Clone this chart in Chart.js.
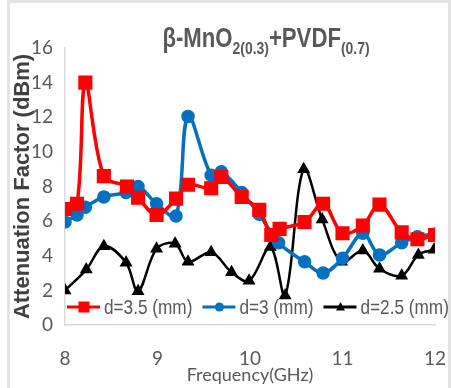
<!DOCTYPE html>
<html>
<head>
<meta charset="utf-8">
<script src="https://cdn.jsdelivr.net/npm/chart.js@4.4.0/dist/chart.umd.min.js"></script>
<style>
    body { margin: 0; background: #fff; }
    #wrap { position: relative; width: 451px; height: 388px; }
    #frame {
        position: absolute; left: 7px; top: 0; width: 438px; height: 388px;
        border: 3px solid #e3e3e3; border-bottom: none; pointer-events: none;
    }
</style>
</head>
<body>
<div id="wrap">
    <canvas id="chartPic" width="451" height="388"></canvas>
    <div id="frame"></div>
</div>
<script>
// d = 3.5 mm
const freqRed = [8.00, 8.13, 8.22, 8.42, 8.67, 8.79, 8.99, 9.20, 9.33, 9.58, 9.69, 9.91, 10.10, 10.23, 10.32, 10.59, 10.79, 11.00, 11.22, 11.40, 11.64, 11.81, 12.00];
const attRed = [6.7, 7.0, 14.0, 8.6, 8.0, 7.35, 6.35, 7.3, 8.1, 7.9, 8.55, 7.4, 6.65, 5.2, 5.55, 5.95, 7.0, 5.3, 5.75, 6.95, 5.35, 4.95, 5.2];
// d = 3 mm
const freqBlue = [8.00, 8.13, 8.22, 8.42, 8.66, 8.79, 8.99, 9.20, 9.33, 9.58, 9.69, 9.91, 10.10, 10.31, 10.59, 10.79, 11.00, 11.22, 11.40, 11.64, 11.81, 12.00];
const attBlue = [5.95, 6.35, 6.8, 7.4, 7.65, 8.0, 7.0, 6.3, 12.05, 8.65, 8.85, 7.65, 6.4, 4.75, 3.65, 3.0, 3.85, 5.3, 4.05, 4.75, 5.1, 5.25];
// d = 2.5 mm
const freqBlack = [8.00, 8.23, 8.42, 8.66, 8.79, 8.99, 9.19, 9.33, 9.58, 9.80, 9.99, 10.22, 10.38, 10.58, 10.78, 10.99, 11.22, 11.40, 11.64, 11.82, 11.99];
const attBlack = [2.0, 3.2, 4.55, 3.6, 1.95, 4.4, 4.7, 3.65, 4.2, 3.05, 2.55, 4.5, 1.7, 9.0, 6.1, 3.65, 4.3, 3.25, 2.85, 4.05, 4.35];

const seriesLabels = ['d=3.5 (mm)', 'd=3 (mm)', 'd=2.5 (mm)'];
const titleParts = [['β-MnO', false], ['2(0.3)', true], ['+PVDF', false], ['(0.7)', true]];
const yTitle = 'Attenuation Factor (dBm)';
const xTitle = 'Frequency(GHz)';

const sans = "'Liberation Sans', sans-serif";
const tickFont = "Lato, 'Liberation Sans', sans-serif";
const gray = '#595959';

function pts(xs, ys) {
    return xs.map(function (x, i) { return {x: x, y: ys[i]}; });
}

function marker(ctx, style, x, y, r, color) {
    ctx.fillStyle = color;
    ctx.beginPath();
    if (style === 'rect') {
        ctx.rect(x - r, y - r, 2 * r, 2 * r);
    } else if (style === 'circle') {
        ctx.arc(x, y, r, 0, Math.PI * 2);
    } else {
        ctx.moveTo(x, y - r * 1.1);
        ctx.lineTo(x + r, y + r * 0.8);
        ctx.lineTo(x - r, y + r * 0.8);
        ctx.closePath();
    }
    ctx.fill();
}

// squeezed text (fake narrow face), returns drawn width
function narrowText(ctx, text, x, y, k) {
    ctx.save();
    ctx.translate(x, y);
    ctx.scale(k, 1);
    ctx.fillText(text, 0, 0);
    ctx.restore();
    return ctx.measureText(text).width * k;
}

const titlePlugin = {
    id: 'subTitle',
    afterDraw: function (chart) {
        const ctx = chart.ctx;
        const big = 'bold 27px ' + sans;
        const small = 'bold 17px ' + sans;
        const k = 0.82;
        let total = 0;
        titleParts.forEach(function (p) {
            ctx.font = p[1] ? small : big;
            total += ctx.measureText(p[0]).width * k;
        });
        let x = 266 - total / 2;
        ctx.save();
        ctx.fillStyle = gray;
        ctx.textBaseline = 'alphabetic';
        titleParts.forEach(function (p) {
            ctx.font = p[1] ? small : big;
            x += narrowText(ctx, p[0], x, p[1] ? 54 : 47, k);
        });
        ctx.restore();
    }
};

const legendPlugin = {
    id: 'lineLegend',
    afterDatasetsDraw: function (chart) {
        const ctx = chart.ctx;
        const y = 307;
        let x = 67;
        ctx.save();
        ctx.font = '20px ' + sans;
        ctx.textBaseline = 'middle';
        chart.data.datasets.forEach(function (ds) {
            ctx.strokeStyle = ds.borderColor;
            ctx.lineWidth = 3;
            ctx.beginPath();
            ctx.moveTo(x, y);
            ctx.lineTo(x + 33, y);
            ctx.stroke();
            marker(ctx, ds.pointStyle, x + 17, y, ds.pointStyle === 'rect' ? 5.5 : 4.5, ds.borderColor);
            ctx.fillStyle = gray;
            const w = narrowText(ctx, ds.label, x + 37, y + 1, 0.86);
            x += 37 + w + 10;
        });
        ctx.restore();
    }
};

const ctx = document.getElementById('chartPic');
const myChart = new Chart(ctx, {
    type: 'scatter',
    data: {
        datasets: [
            {
                label: seriesLabels[0],
                data: pts(freqRed, attRed),
                borderColor: '#FF0000',
                backgroundColor: '#FF0000',
                borderWidth: 3.5,
                pointStyle: 'rect',
                pointRadius: 7.5,
                showLine: true,
                tension: 0.35
            },
            {
                label: seriesLabels[1],
                data: pts(freqBlue, attBlue),
                borderColor: '#0070C0',
                backgroundColor: '#0070C0',
                borderWidth: 3.5,
                pointStyle: 'circle',
                pointRadius: 5,
                showLine: true,
                tension: 0.35
            },
            {
                label: seriesLabels[2],
                data: pts(freqBlack, attBlack),
                borderColor: '#000000',
                backgroundColor: '#000000',
                borderWidth: 2.5,
                pointStyle: 'triangle',
                pointRadius: 5,
                showLine: true,
                tension: 0.35
            }
        ]
    },
    options: {
        responsive: false,
        animation: false,
        layout: {padding: {left: 8, right: 16, top: 48, bottom: 2}},
        scales: {
            x: {
                min: 8,
                max: 12,
                afterFit: function (s) {
                    s.height = 61;
                    s.paddingLeft = 0;
                    s.paddingRight = 0;
                },
                ticks: {
                    stepSize: 1,
                    padding: 22,
                    color: gray,
                    font: {size: 19, family: tickFont}
                },
                grid: {display: false, drawTicks: false},
                border: {color: '#d9d9d9', width: 1.5},
                title: {
                    display: true,
                    text: xTitle,
                    color: gray,
                    padding: 0,
                    font: {size: 18, family: tickFont}
                }
            },
            y: {
                min: 0,
                max: 16,
                afterFit: function (s) {
                    s.width = 57;
                    s.paddingTop = 0;
                    s.paddingBottom = 0;
                },
                ticks: {
                    stepSize: 2,
                    padding: 12,
                    color: gray,
                    font: {size: 19, family: tickFont}
                },
                grid: {display: false, drawTicks: false},
                border: {color: '#d9d9d9', width: 1.5},
                title: {
                    display: true,
                    text: yTitle,
                    color: '#404040',
                    padding: {top: 2, bottom: 0},
                    font: {size: 22, weight: 'bold', family: sans}
                }
            }
        },
        plugins: {
            legend: {display: false},
            tooltip: {enabled: false}
        }
    },
    plugins: [titlePlugin, legendPlugin]
});
</script>
</body>
</html>
